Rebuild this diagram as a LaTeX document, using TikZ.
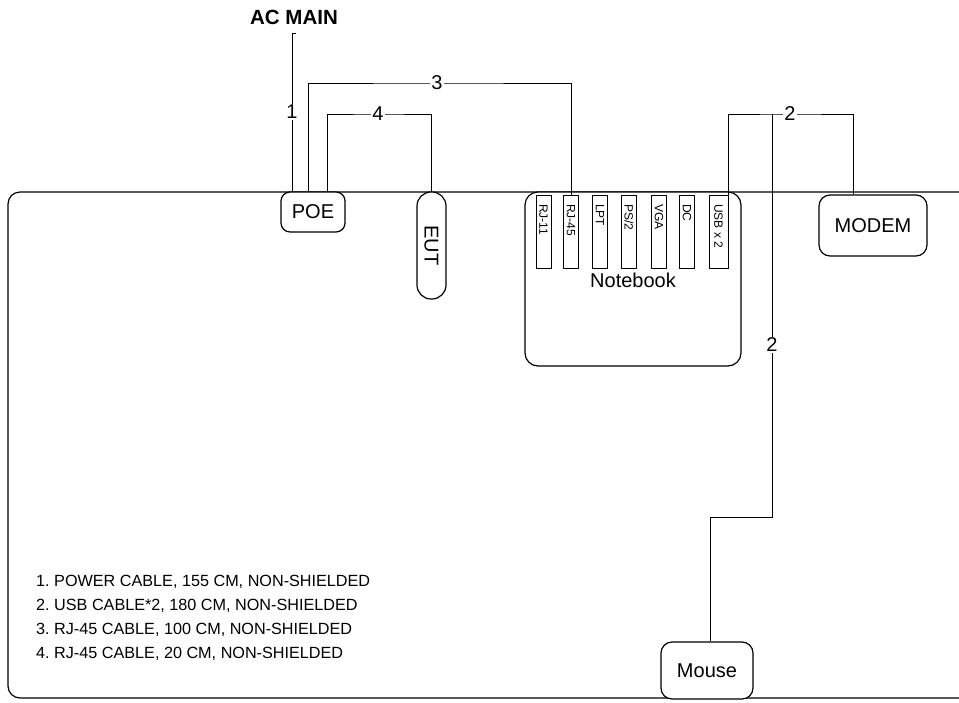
\documentclass[tikz,border=0pt]{standalone}
\usepackage{fontspec}
\setmainfont{Liberation Sans}
\frenchspacing
\begin{document}
\begin{tikzpicture}[x=1pt,y=-1pt,
  box/.style={draw,line width=1.2pt,fill=white,rounded corners=9pt,inner sep=0pt,font=\fontsize{20}{24}\selectfont},
  port/.style={draw,line width=0.9pt,fill=white,inner sep=0pt,minimum width=15pt,minimum height=73pt,anchor=north},
  portlabel/.style={rotate=-90,font=\fontsize{12}{14}\selectfont,anchor=west,inner sep=0pt},
  cable/.style={line width=0.8pt},
  num/.style={fill=white,inner sep=1pt,font=\fontsize{20}{24}\selectfont},
  legend/.style={anchor=west,inner sep=0pt,font=\fontsize{16.2}{19}\selectfont}]
\useasboundingbox (0,0) rectangle (959,702);
\begin{scope}
\clip (0,0) rectangle (959,702);
\draw[line width=1.2pt,rounded corners=12pt] (8,192) rectangle (1000,698);
\end{scope}
% nodes
\node[box,minimum width=64pt,minimum height=40pt] (poe) at (313,212) {POE};
\node[box,minimum width=29pt,minimum height=107pt,rounded corners=14pt] (eut) at (431.5,245.5) {};
\node[rotate=-90,font=\fontsize{20}{24}\selectfont,inner sep=0pt] (eutl) at (eut.center) {EUT};
\node[box,minimum width=216pt,minimum height=174pt,rounded corners=13pt] (nb) at (633,279) {};
\node[font=\fontsize{20}{24}\selectfont,inner sep=0pt] (nbl) at (633,280) {Notebook};
\node[port] (rj11) at (543.5,195) {};
\node[port] (rj45) at (571,195) {};
\node[port] (lpt) at (600,195) {};
\node[port] (ps2) at (629,195) {};
\node[port] (vga) at (659,195) {};
\node[port] (dc) at (687,195) {};
\node[port,minimum width=19pt] (usb) at (718.5,195) {};
\node[portlabel] (rj11l) at ([yshift=-9pt]rj11.north) {RJ-11};
\node[portlabel] (rj45l) at ([yshift=-9pt]rj45.north) {RJ-45};
\node[portlabel] (lptl) at ([yshift=-9pt]lpt.north) {LPT};
\node[portlabel] (ps2l) at ([yshift=-9pt]ps2.north) {PS/2};
\node[portlabel] (vgal) at ([yshift=-9pt]vga.north) {VGA};
\node[portlabel] (dcl) at ([yshift=-9pt]dc.north) {DC};
\node[portlabel] (usbl) at ([yshift=-9pt]usb.north) {USB x 2};
\node[box,minimum width=108pt,minimum height=61pt,rounded corners=11pt] (modem) at (873,225.5) {MODEM};
\node[box,minimum width=92pt,minimum height=57pt,rounded corners=11pt] (mouse) at (707,670.5) {Mouse};
\node[font=\bfseries\fontsize{20.5}{24}\selectfont,inner sep=0pt] (ac) at (294,17) {AC MAIN};
% cables
\coordinate (acend) at (292,33);
\draw[cable] ([xshift=4pt]acend) -- (acend) -- (acend |- poe.north);
\node[num] (n1) at (292,112) {1};
\coordinate (c3) at (437,83);
\draw[cable] ([xshift=-5pt]poe.north) |- (c3) -| (rj45.north);
\node[num] (n3) at (c3) {3};
\coordinate (c4) at (378,114);
\draw[cable] ([xshift=14pt]poe.north) |- (c4) -| (eut.north);
\node[num] (n4) at (c4) {4};
\coordinate (c2) at (790,114);
\coordinate (j2) at (772,114);
\coordinate (k2) at (772,517);
\draw[cable] (usb.north east) |- (c2) -| ([xshift=-20pt]modem.north);
\draw[cable] (j2) -- (k2) -| ([xshift=3pt]mouse.north);
\node[num] (n2a) at (c2) {2};
\node[num] (n2b) at (772,345) {2};
% legend
\node[legend] (l1) at (36,582) {1. POWER CABLE, 155 CM, NON-SHIELDED};
\node[legend] (l2) at (36,606) {2. USB CABLE*2, 180 CM, NON-SHIELDED};
\node[legend] (l3) at (36,630) {3. RJ-45 CABLE, 100 CM, NON-SHIELDED};
\node[legend] (l4) at (36,654) {4. RJ-45 CABLE, 20 CM, NON-SHIELDED};
\end{tikzpicture}
\end{document}
